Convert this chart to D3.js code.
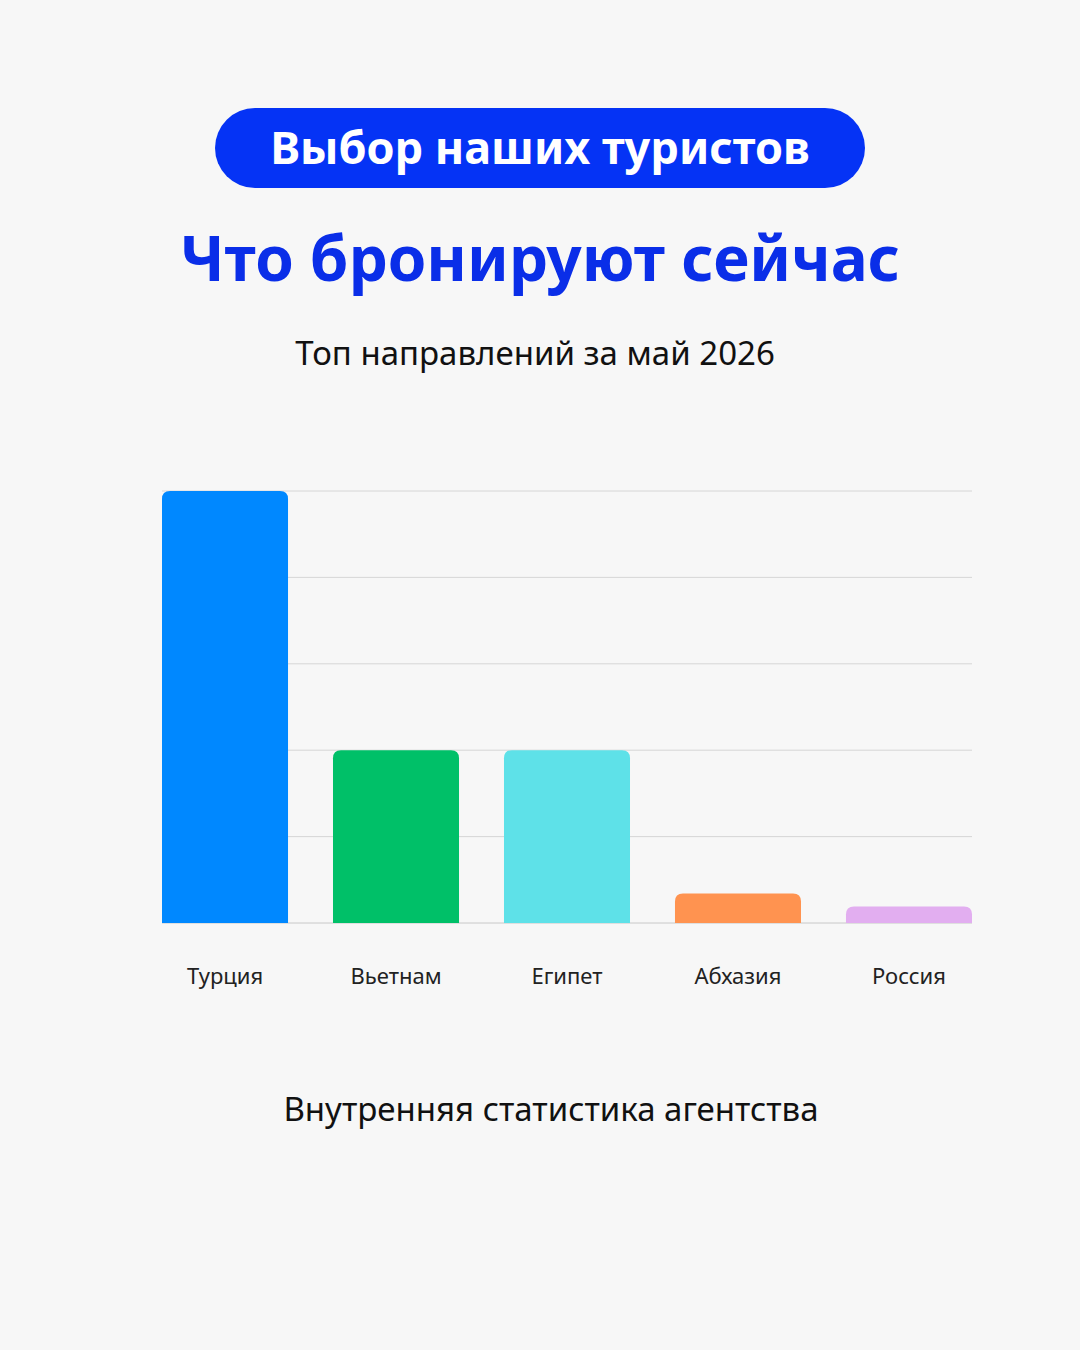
<!DOCTYPE html>
<html><head><meta charset="utf-8">
<script src="https://cdn.jsdelivr.net/npm/d3@7"></script>
<style>body{margin:0;background:#f7f7f7}svg{display:block}</style>
</head><body>
<script>
const categories = ["Турция","Вьетнам","Египет","Абхазия","Россия"];
const values = [50, 20, 20, 3.4, 1.9];
const colors = ["#0088ff","#00c068","#5ee1e8","#ff9350","#e2aef0"];
const yTicks = [0,10,20,30,40,50];

const W=1080,H=1350;
const svg=d3.select("body").append("svg").attr("width",W).attr("height",H);
svg.append("rect").attr("width",W).attr("height",H).attr("fill","#f7f7f7");
const font="'Noto Sans','Open Sans',sans-serif";

svg.append("rect").attr("x",215).attr("y",108).attr("width",650).attr("height",80).attr("rx",40).attr("fill","#0533f5");
svg.append("text").attr("x",540).attr("y",164).attr("text-anchor","middle").attr("fill","#fff")
  .attr("font-family",font).attr("font-weight",700).attr("font-size",45).text("Выбор наших туристов");
svg.append("text").attr("x",540).attr("y",281).attr("text-anchor","middle").attr("fill","#0a2ee8")
  .attr("font-family",font).attr("font-weight",700).attr("font-size",62).text("Что бронируют сейчас");
svg.append("text").attr("x",535).attr("y",365).attr("text-anchor","middle").attr("fill","#111")
  .attr("font-family",font).attr("font-size",33).text("Топ направлений за май 2026");
svg.append("text").attr("x",551).attr("y",1121).attr("text-anchor","middle").attr("fill","#111")
  .attr("font-family",font).attr("font-size",33).text("Внутренняя статистика агентства");

const x=d3.scaleBand().domain(categories).range([162,972]).paddingInner(0.263).paddingOuter(0);
const y=d3.scaleLinear().domain([0,50]).range([923,491]);

svg.append("g").selectAll("line").data(yTicks).join("line")
  .attr("x1",162).attr("x2",972).attr("y1",d=>y(d)).attr("y2",d=>y(d))
  .attr("stroke",d=>d===0?"#c8c8c8":"#d6d6d6").attr("stroke-width",1);

const r=8;
svg.append("g").selectAll("path").data(categories).join("path")
  .attr("fill",(d,i)=>colors[i])
  .attr("d",(d,i)=>{
    const x0=x(d),w=x.bandwidth(),y0=y(values[i]),y1=y(0),rr=Math.min(r,(y1-y0));
    return `M${x0},${y1}V${y0+rr}Q${x0},${y0} ${x0+rr},${y0}H${x0+w-rr}Q${x0+w},${y0} ${x0+w},${y0+rr}V${y1}Z`;
  });

svg.append("g").selectAll("text").data(categories).join("text")
  .attr("x",d=>x(d)+x.bandwidth()/2).attr("y",984).attr("text-anchor","middle")
  .attr("font-family",font).attr("font-size",22).attr("fill","#222").text(d=>d);
</script>
</body></html>
